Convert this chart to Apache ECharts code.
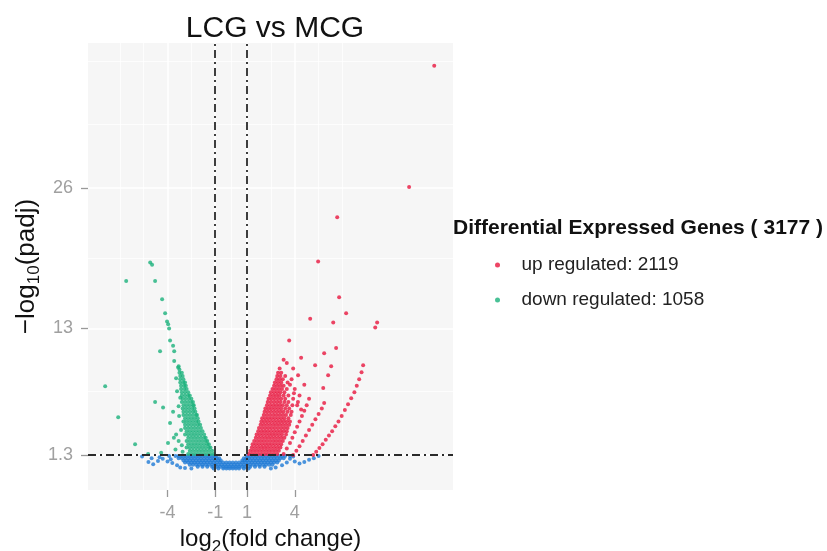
<!DOCTYPE html>
<html>
<head>
<meta charset="utf-8">
<script src="https://cdn.jsdelivr.net/npm/echarts@6/dist/echarts.min.js"></script>
<style>
  html, body { margin: 0; padding: 0; background: #ffffff; }
  #chart { width: 827px; height: 551px; }
</style>
</head>
<body>
<div id="chart"></div>
<script>
// Axis breaks and gridlines
const xTicks = [-4, -1, 1, 4];
const yTicks = [1.3, 13, 26];
const xMinorGrid = [-7, -5.5, -2.5, 0, 2.5, 5.5, 7];
const yMinorGrid = [7.15, 19.5, 31.85, 37.7];
const fcCutoffs = [-1, 1];
const padjCutoff = 1.3;

// Legend counts
const upCount = 2119;
const downCount = 1058;

// Down-regulated genes: dense wedge, rows of [-log10(padj), log2FC values]
const downRows = [
  [1.4, [-2.7, -2.5, -2.3, -2.1, -1.9, -1.7, -1.5, -1.3, -1.1]],
  [1.7, [-2.6, -2.4, -2.2, -2.0, -1.8, -1.6, -1.4, -1.2]],
  [2.0, [-2.8, -2.6, -2.4, -2.2, -2.0, -1.8, -1.6, -1.4, -1.3]],
  [2.3, [-2.7, -2.5, -2.3, -2.1, -1.9, -1.7, -1.5, -1.4]],
  [2.6, [-2.8, -2.6, -2.4, -2.2, -2.0, -1.8, -1.6, -1.5]],
  [2.9, [-2.7, -2.5, -2.3, -2.1, -1.9, -1.7, -1.6]],
  [3.2, [-2.9, -2.7, -2.5, -2.3, -2.1, -1.9, -1.7]],
  [3.5, [-2.8, -2.6, -2.4, -2.2, -2.0, -1.8]],
  [3.8, [-2.9, -2.7, -2.5, -2.3, -2.1, -1.9]],
  [4.1, [-2.9, -2.7, -2.5, -2.3, -2.1, -1.95]],
  [4.4, [-3.0, -2.8, -2.6, -2.4, -2.2, -2.05]],
  [4.7, [-2.9, -2.7, -2.5, -2.3, -2.1]],
  [5.0, [-3.0, -2.8, -2.6, -2.4, -2.2, -2.15]],
  [5.3, [-3.0, -2.8, -2.6, -2.4, -2.25]],
  [5.6, [-3.05, -2.85, -2.65, -2.45, -2.3]],
  [5.9, [-3.0, -2.8, -2.6, -2.4, -2.35]],
  [6.2, [-3.1, -2.9, -2.7, -2.5, -2.4]],
  [6.5, [-3.05, -2.85, -2.65, -2.5]],
  [6.8, [-3.1, -2.9, -2.7, -2.6]],
  [7.1, [-3.1, -2.9, -2.7]],
  [7.4, [-3.15, -2.95, -2.8]],
  [7.7, [-3.15, -2.95, -2.85]],
  [8.0, [-3.2, -3.0, -2.9]],
  [8.3, [-3.2, -3.0]],
  [8.6, [-3.2, -3.05]],
  [8.9, [-3.25, -3.1]],
  [9.2, [-3.25]],
  [9.5, [-3.3]]
];
// Down-regulated genes outside the wedge, [log2FC, -log10(padj)]
const downPoints = [
  [-5.09, 19.1], [-4.97, 18.9], [-6.6, 17.4], [-4.78, 17.4], [-4.34, 15.7],
  [-4.15, 14.4], [-4.03, 13.65], [-3.96, 13.4], [-3.9, 13.0], [-3.84, 11.9],
  [-3.65, 11.4], [-3.58, 10.9], [-4.47, 10.9], [-3.58, 10.0], [-3.33, 9.4],
  [-3.46, 8.4], [-3.2, 6.6], [-7.92, 7.66], [-7.1, 4.8], [-4.78, 6.2],
  [-4.28, 5.7], [-3.65, 5.3], [-3.84, 4.25], [-3.46, 3.2], [-3.27, 4.9],
  [-6.04, 2.3], [-5.22, 1.4], [-3.97, 2.4], [-3.5, 1.8], [-4.4, 1.5],
  [-3.3, 2.6], [-3.4, 7.2], [-3.3, 5.8], [-3.15, 3.6], [-3.1, 2.2],
  [-3.6, 2.9], [-3.05, 1.6]
];

// Up-regulated genes: dense wedge rows
const upRows = [
  [1.4, [1.1, 1.3, 1.5, 1.7, 1.9, 2.1, 2.3, 2.5, 2.7, 2.9]],
  [1.7, [1.2, 1.4, 1.6, 1.8, 2.0, 2.2, 2.4, 2.6, 2.8, 3.0]],
  [2.0, [1.3, 1.5, 1.7, 1.9, 2.1, 2.3, 2.5, 2.7, 2.9, 3.1]],
  [2.3, [1.35, 1.55, 1.75, 1.95, 2.15, 2.35, 2.55, 2.75, 2.95, 3.15]],
  [2.6, [1.45, 1.65, 1.85, 2.05, 2.25, 2.45, 2.65, 2.85, 3.05, 3.25]],
  [2.9, [1.55, 1.75, 1.95, 2.15, 2.35, 2.55, 2.75, 2.95, 3.15, 3.35]],
  [3.2, [1.6, 1.8, 2.0, 2.2, 2.4, 2.6, 2.8, 3.0, 3.2, 3.45]],
  [3.5, [1.7, 1.9, 2.1, 2.3, 2.5, 2.7, 2.9, 3.1, 3.3, 3.5]],
  [3.8, [1.75, 1.95, 2.15, 2.35, 2.55, 2.75, 2.95, 3.15, 3.35, 3.55]],
  [4.1, [1.85, 2.05, 2.25, 2.45, 2.65, 2.85, 3.05, 3.25, 3.45, 3.65]],
  [4.4, [1.9, 2.1, 2.3, 2.5, 2.7, 2.9, 3.1, 3.3, 3.5, 3.7]],
  [4.7, [1.95, 2.15, 2.35, 2.55, 2.75, 2.95, 3.15, 3.35, 3.6]],
  [5.0, [2.05, 2.25, 2.45, 2.65, 2.85, 3.05, 3.25, 3.45, 3.75]],
  [5.3, [2.1, 2.3, 2.5, 2.7, 2.9, 3.1, 3.3, 3.55, 3.8]],
  [5.6, [2.15, 2.35, 2.55, 2.75, 2.95, 3.15, 3.4, 3.65]],
  [5.9, [2.25, 2.45, 2.65, 2.85, 3.05, 3.25, 3.5, 3.85]],
  [6.2, [2.3, 2.5, 2.7, 2.9, 3.1, 3.35, 3.6]],
  [6.5, [2.35, 2.55, 2.75, 2.95, 3.15, 3.4, 3.9]],
  [6.8, [2.45, 2.65, 2.85, 3.05, 3.3, 3.6]],
  [7.1, [2.5, 2.7, 2.9, 3.1, 3.35]],
  [7.4, [2.6, 2.8, 3.0, 3.2, 3.5]],
  [7.7, [2.7, 2.9, 3.1, 3.3]],
  [8.0, [2.75, 2.95, 3.15, 3.55]],
  [8.3, [2.85, 3.05, 3.25]],
  [8.6, [2.9, 3.1, 3.4]],
  [8.9, [2.95, 3.15]],
  [9.3, [3.05]]
];
// Up-regulated genes along the three outer arcs, [log2FC, -log10(padj)]
const upArcOuter = [
  [5.16, 1.3], [5.35, 1.6], [5.55, 1.95], [5.75, 2.3], [5.95, 2.7], [6.15, 3.1],
  [6.35, 3.5], [6.55, 3.95], [6.75, 4.4], [6.95, 4.9], [7.15, 5.45], [7.35, 6.0],
  [7.55, 6.55], [7.75, 7.1], [7.9, 7.7], [8.05, 8.3], [8.2, 8.95], [8.3, 9.6]
];
const upArcMiddle = [
  [3.9, 1.3], [4.1, 1.7], [4.3, 2.1], [4.5, 2.6], [4.7, 3.1], [4.9, 3.6],
  [5.1, 4.1], [5.3, 4.6], [5.5, 5.1], [5.7, 5.6], [5.85, 6.1]
];
const upArcInner = [
  [3.3, 1.4], [3.5, 1.9], [3.7, 2.4], [3.85, 2.9], [4.0, 3.4], [4.15, 3.9],
  [4.3, 4.4], [4.45, 4.9], [4.6, 5.4], [4.75, 5.9], [4.9, 6.5]
];
const upPoints = [
  [12.77, 37.3], [11.19, 26.1], [6.67, 23.3], [5.47, 19.2], [6.79, 15.9],
  [7.23, 14.4], [4.97, 13.9], [6.42, 13.56], [9.18, 13.56], [9.06, 13.1],
  [3.65, 11.9], [6.6, 11.2], [5.85, 10.7], [4.4, 10.3], [5.28, 9.6],
  [6.29, 9.5], [6.1, 8.67], [4.21, 8.67], [5.79, 7.5], [3.5, 9.8],
  [3.3, 10.1], [3.8, 8.3], [4.0, 7.4], [4.3, 6.8], [3.9, 9.3],
  [4.6, 7.8], [4.15, 5.9], [4.4, 5.5], [3.95, 7.0], [3.7, 7.8], [4.2, 6.2]
];

// Not significant genes: band below the padj cutoff
const nsRows = [
  [1.2, [-3.5, -3.3, -3.1, -2.9, -2.7, -2.5, -2.3, -2.1, -1.9, -1.7, -1.5, -1.3, -1.1, -0.95,
         1.0, 1.2, 1.4, 1.6, 1.8, 2.0, 2.2, 2.4, 2.6, 2.8, 3.0, 3.2, 3.4]],
  [1.0, [-3.3, -3.1, -2.9, -2.7, -2.5, -2.3, -2.1, -1.9, -1.7, -1.5, -1.3, -1.1, -0.9, -0.75,
         0.8, 0.95, 1.1, 1.3, 1.5, 1.7, 1.9, 2.1, 2.3, 2.5, 2.7, 2.9, 3.1, 3.3]],
  [0.8, [-3.0, -2.8, -2.6, -2.4, -2.2, -2.0, -1.8, -1.6, -1.4, -1.2, -1.0, -0.8, -0.65,
         0.7, 0.85, 1.0, 1.2, 1.4, 1.6, 1.8, 2.0, 2.2, 2.4, 2.6, 2.8, 3.0]],
  [0.6, [-2.9, -2.7, -2.5, -2.3, -2.1, -1.9, -1.7, -1.5, -1.3, -1.1, -0.9, -0.7, -0.5,
         -0.3, -0.1, 0.1, 0.3, 0.5, 0.7, 0.9, 1.1, 1.3, 1.5, 1.7, 1.9, 2.1, 2.3, 2.5, 2.7, 2.9]],
  [0.4, [-2.6, -2.4, -2.2, -2.0, -1.8, -1.6, -1.4, -1.2, -1.0, -0.8, -0.6, -0.4, -0.2, 0,
         0.2, 0.4, 0.6, 0.8, 1.0, 1.2, 1.4, 1.6, 1.8, 2.0, 2.2, 2.4, 2.6]],
  [0.2, [-2.1, -1.8, -1.5, -1.2, -0.9, -0.7, -0.5, -0.3, -0.1, 0.1, 0.3, 0.5, 0.7, 0.9,
         1.2, 1.5, 1.8, 2.1]],
  [0.05, [-1.1, -0.8, -0.5, -0.3, -0.1, 0.1, 0.3, 0.5, 0.8, 1.1]]
];
const nsPoints = [
  [-5.6, 1.15], [-5.2, 0.65], [-4.9, 0.45], [-4.6, 0.75], [-4.3, 0.95], [-4.0, 0.7],
  [-3.8, 0.9], [-4.5, 1.1], [-5.0, 1.0], [-3.7, 0.55], [-3.2, 0.15], [-2.9, 0.1],
  [-2.5, 0.05], [-3.4, 0.35], [3.7, 0.95], [4.0, 0.7], [4.3, 0.5], [4.6, 0.65],
  [4.9, 0.85], [5.2, 1.0], [5.5, 1.2], [3.9, 1.15], [3.2, 0.35], [2.8, 0.15],
  [2.5, 0.05], [3.5, 0.6], [-3.9, 1.2], [3.7, 1.2]
];

// Unpack row-encoded values into [x, y] pairs
function unpackRows(rows) {
  const out = [];
  rows.forEach(([y, xs]) => xs.forEach(x => out.push([x, y])));
  return out;
}

const upData = unpackRows(upRows).concat(upArcOuter, upArcMiddle, upArcInner, upPoints);
const downData = unpackRows(downRows).concat(downPoints);
const nsData = unpackRows(nsRows).concat(nsPoints);

const RED = '#e8173f';
const GREEN = '#1cb27c';
const BLUE = '#1f7ad6';
const FONT = '"Liberation Sans", Arial, Helvetica, sans-serif';

const chart = echarts.init(document.getElementById('chart'), null, { renderer: 'canvas' });

const gridLines = []
  .concat(xMinorGrid.map(v => ({ xAxis: v, lineStyle: { width: 0.8 } })))
  .concat(yMinorGrid.map(v => ({ yAxis: v, lineStyle: { width: 0.8 } })))
  .concat(xTicks.map(v => ({ xAxis: v, lineStyle: { width: 1.6 } })))
  .concat(yTicks.map(v => ({ yAxis: v, lineStyle: { width: 1.6 } })));

const cutoffLines = fcCutoffs.map(v => ({ xAxis: v })).concat([{ yAxis: padjCutoff }]);

const titleRich = { sub: { fontFamily: FONT, fontSize: 17, verticalAlign: 'bottom', lineHeight: 33, color: '#111111' } };

const option = {
  animation: false,
  backgroundColor: '#ffffff',
  textStyle: { fontFamily: FONT },
  title: {
    text: 'LCG vs MCG',
    left: 270,
    top: 9,
    textAlign: 'center',
    textStyle: { fontFamily: FONT, fontSize: 30, fontWeight: 'normal', color: '#111111' }
  },
  graphic: [{
    type: 'text',
    left: 453,
    top: 218,
    style: {
      text: 'Differential Expressed Genes ( ' + (upCount + downCount) + ' )',
      font: 'bold 21px ' + FONT,
      fill: '#111111'
    }
  }],
  legend: {
    orient: 'vertical',
    left: 490,
    top: 249,
    itemWidth: 38,
    itemHeight: 5,
    itemGap: 13,
    icon: 'circle',
    data: ['up regulated: ' + upCount, 'down regulated: ' + downCount],
    textStyle: { fontFamily: FONT, fontSize: 19, color: '#222222', lineHeight: 22 }
  },
  grid: {
    left: 88,
    right: 374,
    top: 43,
    bottom: 61,
    show: true,
    backgroundColor: '#f6f6f6',
    borderWidth: 0,
    outerBoundsMode: 'none'
  },
  xAxis: {
    type: 'value',
    min: -9,
    max: 13.95,
    axisLine: { show: true, onZero: false, lineStyle: { color: 'rgba(0,0,0,0)' } },
    splitLine: { show: false },
    axisTick: { show: true, customValues: xTicks, length: 7, lineStyle: { color: '#999999', width: 1.3 } },
    axisLabel: {
      customValues: xTicks,
      formatter: v => (v < 0 ? '-' + Math.abs(v) : String(v)),
      fontFamily: FONT, fontSize: 18, color: '#a0a0a0', margin: 14
    },
    name: 'log{sub|2}(fold change)',
    nameLocation: 'middle',
    nameGap: 32,
    nameTextStyle: { fontFamily: FONT, fontSize: 24, color: '#111111', rich: titleRich }
  },
  yAxis: {
    type: 'value',
    min: -1.94,
    max: 39.41,
    axisLine: { show: true, onZero: false, lineStyle: { color: 'rgba(0,0,0,0)' } },
    splitLine: { show: false },
    axisTick: { show: true, customValues: yTicks, length: 7, lineStyle: { color: '#999999', width: 1.3 } },
    axisLabel: {
      customValues: yTicks,
      formatter: v => String(v),
      fontFamily: FONT, fontSize: 18, color: '#a0a0a0', margin: 15
    },
    name: '\u2212log{sub|10}(padj)',
    nameLocation: 'middle',
    nameRotate: 90,
    nameGap: 45,
    nameTextStyle: { fontFamily: FONT, fontSize: 26, color: '#111111', rich: titleRich }
  },
  series: [
    {
      name: 'grid',
      type: 'scatter',
      data: [],
      silent: true,
      markLine: {
        silent: true,
        z: 1,
        symbol: 'none',
        label: { show: false },
        lineStyle: { color: '#ffffff', type: 'solid' },
        data: gridLines
      }
    },
    {
      name: 'not significant',
      type: 'scatter',
      z: 3,
      symbolSize: 4,
      itemStyle: { color: BLUE },
      data: nsData
    },
    {
      name: 'down regulated: ' + downCount,
      type: 'scatter',
      z: 3,
      symbolSize: 4,
      itemStyle: { color: GREEN },
      data: downData
    },
    {
      name: 'up regulated: ' + upCount,
      type: 'scatter',
      z: 3,
      symbolSize: 4,
      itemStyle: { color: RED },
      data: upData
    },
    {
      name: 'cutoffs',
      type: 'scatter',
      data: [],
      silent: true,
      z: 6,
      markLine: {
        silent: true,
        z: 6,
        symbol: 'none',
        label: { show: false },
        lineStyle: { color: '#2a2a2a', width: 1.8, type: [8, 4, 2, 4] },
        data: cutoffLines
      }
    }
  ]
};

chart.setOption(option);
</script>
</body>
</html>
